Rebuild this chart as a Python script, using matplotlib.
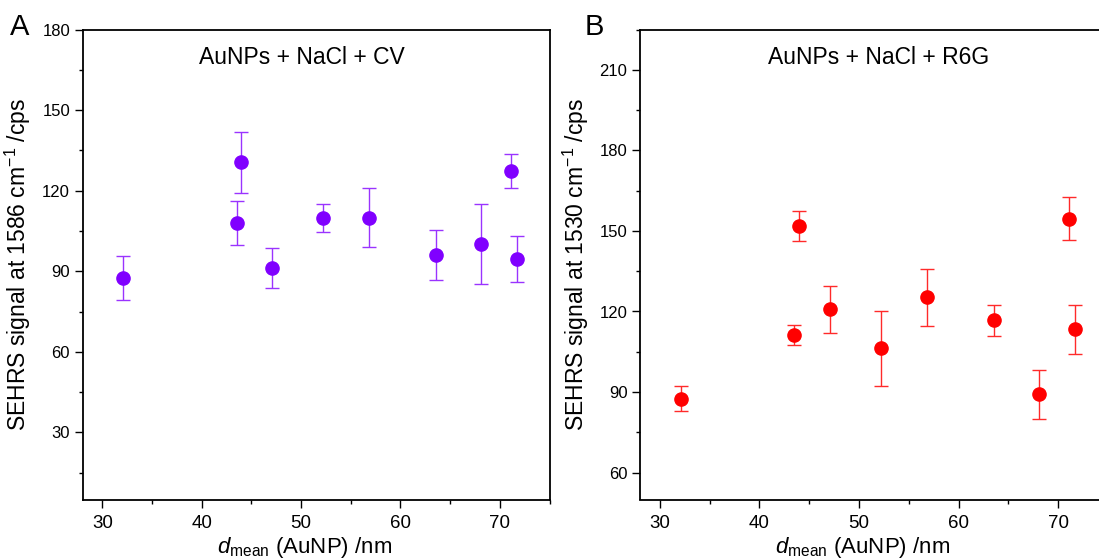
import matplotlib
matplotlib.use('Agg')
import matplotlib.pyplot as plt
from matplotlib.ticker import MultipleLocator

plt.rcParams['font.family'] = ['Liberation Sans', 'DejaVu Sans']
plt.rcParams['mathtext.fontset'] = 'custom'
plt.rcParams['mathtext.rm'] = 'Liberation Sans'
plt.rcParams['mathtext.it'] = 'Liberation Sans:italic'

# panel A: crystal violet
cv_d = [32.1, 43.5, 44.0, 47.1, 52.2, 56.8, 63.6, 68.1, 71.1, 71.7]
cv_sig = [87.5, 108.0, 130.5, 91.2, 109.7, 110.0, 96.0, 100.1, 127.2, 94.4]
cv_err = [8.3, 8.1, 11.3, 7.3, 5.2, 10.9, 9.3, 15.0, 6.3, 8.6]

# panel B: rhodamine 6G
r6g_d = [32.1, 43.5, 44.0, 47.1, 52.2, 56.8, 63.6, 68.1, 71.1, 71.7]
r6g_sig = [87.6, 111.4, 151.8, 120.8, 106.3, 125.3, 116.8, 89.2, 154.6, 113.4]
r6g_err = [4.8, 3.7, 5.6, 8.7, 13.9, 10.6, 5.8, 9.2, 8.0, 9.1]

W, H = 1099, 559
fig = plt.figure(figsize=(W / 100, H / 100), dpi=100)

# right panel runs past the edge of the figure, as in the original
ax1 = fig.add_axes([82.5 / W, 59.5 / H, 467 / W, 470 / H])
ax2 = fig.add_axes([640 / W, 59.5 / H, 468 / W, 470 / H])


def style(ax, ylim, title, title_x, ylab):
    ax.set_xlim(28, 75)
    ax.set_ylim(*ylim)
    ax.xaxis.set_major_locator(MultipleLocator(10))
    ax.xaxis.set_minor_locator(MultipleLocator(5))
    ax.yaxis.set_major_locator(MultipleLocator(30))
    ax.yaxis.set_minor_locator(MultipleLocator(15))
    ax.tick_params(which='both', direction='out', top=False, right=False, width=1)
    ax.tick_params(which='major', length=6)
    ax.tick_params(which='minor', length=3)
    ax.tick_params(axis='x', labelsize=13.5, pad=5)
    ax.tick_params(axis='y', labelsize=12, pad=3)
    for s in ax.spines.values():
        s.set_linewidth(1.3)
    ax.text(title_x, 0.94, title, transform=ax.transAxes, ha='center', va='center', fontsize=16.5)
    ax.set_xlabel(r'$\it{d}$$_{\rm mean}$ (AuNP) /nm', fontsize=16)
    ax.set_ylabel(ylab, fontsize=16.5)


ax1.errorbar(cv_d, cv_sig, yerr=cv_err, fmt='o', color='#8000ff', ecolor='#9a33ff',
             ms=9.5, elinewidth=1, capsize=4.7, capthick=1)
ax2.errorbar(r6g_d, r6g_sig, yerr=r6g_err, fmt='o', color='#ff0000', ecolor='#ff2a2a',
             ms=9.5, elinewidth=1, capsize=4.7, capthick=1)

style(ax1, (5, 180), 'AuNPs + NaCl + CV', 0.47, r'SEHRS signal at 1586 cm$^{-1}$ /cps')
style(ax2, (50, 225), 'AuNPs + NaCl + R6G', 0.51, r'SEHRS signal at 1530 cm$^{-1}$ /cps')

ax1.yaxis.set_label_coords(-0.107, 0.5)
ax2.yaxis.set_label_coords(-0.104, 0.5)
ax1.xaxis.set_label_coords(0.475, -0.076)
ax2.xaxis.set_label_coords(0.475, -0.076)

fig.text(10 / W, 1 - 27 / H, 'A', fontsize=21, va='center', ha='left')
fig.text(585 / W, 1 - 27 / H, 'B', fontsize=21, va='center', ha='left')

fig.savefig('out.png', dpi=100)
